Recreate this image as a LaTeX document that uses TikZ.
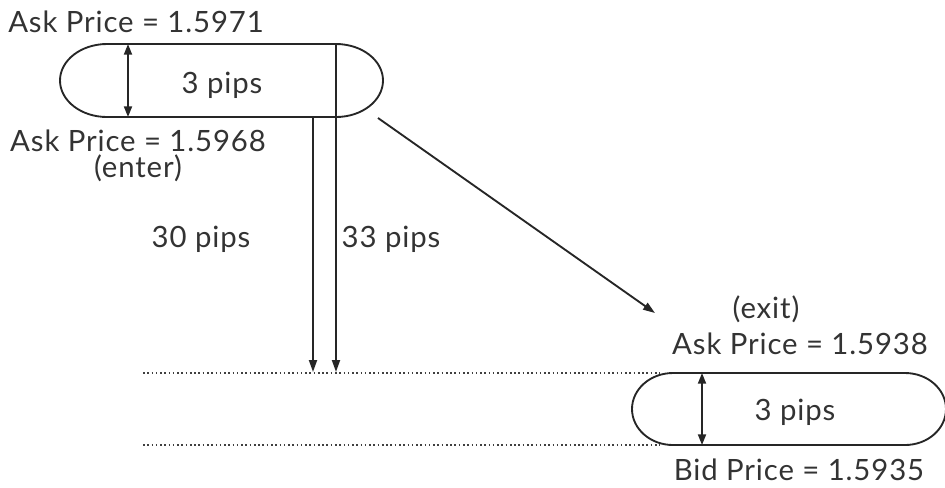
\documentclass[tikz,border=0pt]{standalone}
\usepackage{fontspec}
\setmainfont{Lato}[LetterSpace=3]
\usetikzlibrary{arrows.meta}
\tikzset{capsule/.style={draw=black!85, line width=1.4pt},
 price/.style={font=\fontsize{22}{25}\selectfont, text=black!80, inner sep=0pt, anchor=base},
 drop/.style={draw=black!85, line width=1.4pt, -{Triangle[length=9pt,width=6pt]}},
 span/.style={draw=black!85, line width=1.4pt,
   {Triangle[length=8pt,width=6pt]}-{Triangle[length=8pt,width=6pt]}},
 level/.style={draw=black!75, dotted, line width=1.2pt},
 }

\begin{document}
\begin{tikzpicture}[x=0.75pt,y=-0.75pt]
    \useasboundingbox (0,0) rectangle (945,487);
    % entry spread
    \draw[capsule] (107,44) -- (336,44)
        arc[start angle=-90, end angle=90, x radius=47, y radius=36.5] -- (107,117)
        arc[start angle=90, end angle=270, x radius=47, y radius=36.5];
    \coordinate (enterTop) at (128,44);
    \coordinate (enterBot) at (128,117);
    \coordinate (askHigh) at (336,44);
    \coordinate (askLow) at (313,117);
    \coordinate (leave) at (378,118);
    % exit spread
    \draw[capsule] (673,373) -- (905,373)
        arc[start angle=-90, end angle=90, x radius=41, y radius=36] -- (673,445)
        arc[start angle=90, end angle=270, x radius=41, y radius=36];
    \coordinate (exitTop) at (702,373);
    \coordinate (exitBot) at (702,445);
    \coordinate (hit30) at (313,372);
    \coordinate (hit33) at (336,372);
    \coordinate (arrive) at (655,313);
    \coordinate (lvlA) at (143,373);
    \coordinate (lvlAend) at (660,373);
    \coordinate (lvlB) at (143,445);
    \coordinate (lvlBend) at (660,445);

    \draw[level] (lvlA) -- (lvlAend);
    \draw[level] (lvlB) -- (lvlBend);
    \draw[span] (enterTop) -- (enterBot);
    \draw[span] (exitTop) -- (exitBot);
    \draw[drop] (askLow) -- (hit30);
    \draw[drop] (askHigh) -- (hit33);
    \draw[drop] (leave) -- (arrive);

    \node[price, anchor=base west] (ask71) at (8,32) {Ask Price = 1.5971};
    \node[price] (pipsA) at (222,93) {3 pips};
    \node[price, align=center, font=\fontsize{22}{19.5}\selectfont] (ask68) at (138,177)
        {Ask Price = 1.5968\\(enter)};
    \node[price] (p30) at (201,247) {30 pips};
    \node[price] (p33) at (391,247) {33 pips};
    \node[price] (exit) at (766,318) {(exit)};
    \node[price] (ask38) at (800,354) {Ask Price = 1.5938};
    \node[price] (pipsB) at (795,420) {3 pips};
    \node[price] (bid35) at (799,480) {Bid Price = 1.5935};
\end{tikzpicture}
\end{document}
